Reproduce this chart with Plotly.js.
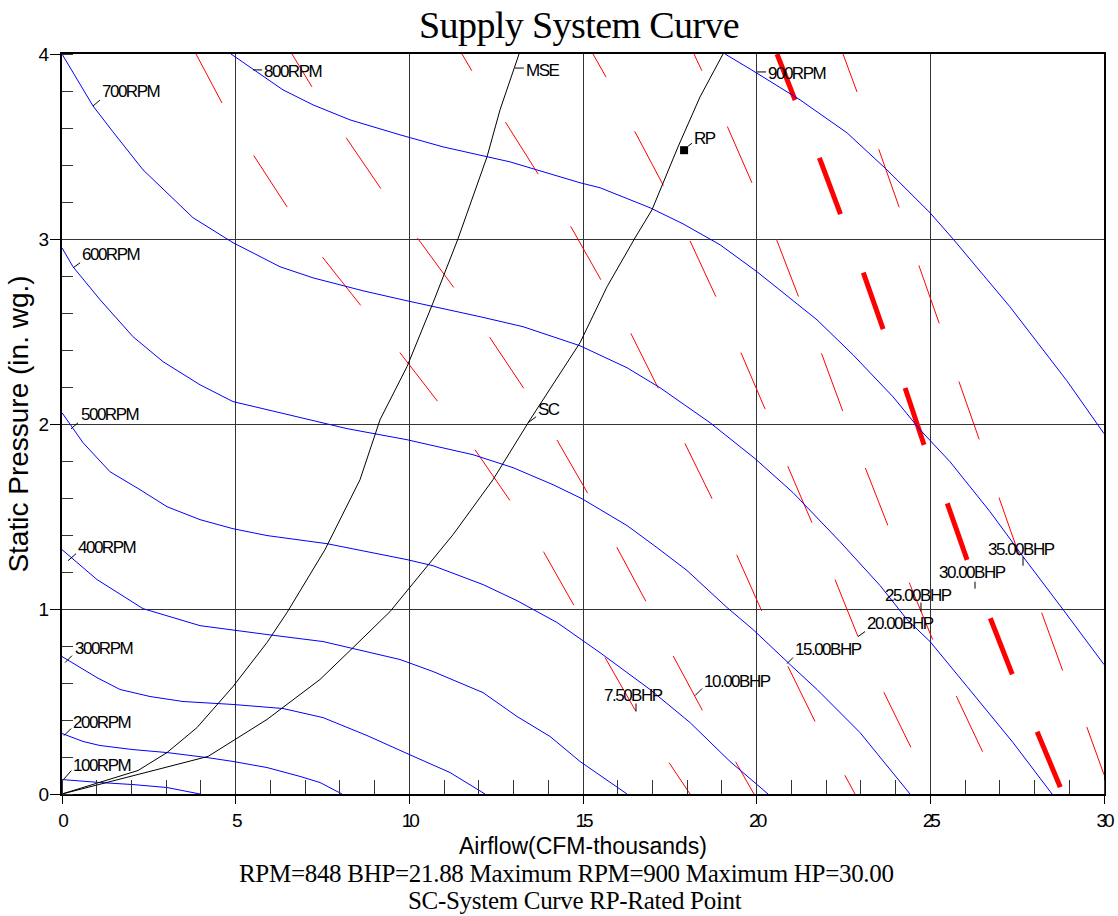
<!DOCTYPE html>
<html><head><meta charset="utf-8">
<script src="https://cdn.plot.ly/plotly-3.0.1.min.js"></script>
<style>
html,body{margin:0;padding:0;background:#fff;}
#chart{width:1118px;height:916px;}
.xtick text,.ytick text{letter-spacing:-3px;}
.annotation-text{letter-spacing:-1.5px;}
.gtitle{letter-spacing:-0.6px;}
</style></head><body><div id="chart"></div>
<script>
// ---- Fan curves (RPM), airflow in CFM-thousands, static pressure in in. wg.
const rpmNames = ['100RPM','200RPM','300RPM','400RPM','500RPM','600RPM','700RPM','800RPM','900RPM'];
const rpm100x = [0, 1.094, 2.044, 3.023, 3.973];
const rpm100y = [0.078, 0.062, 0.051, 0.035, 0];
const rpm200x = [0, 0.605, 1.094, 2.044, 3.023, 4.175, 4.924, 5.903, 6.853, 7.428, 8.062];
const rpm200y = [0.327, 0.284, 0.262, 0.240, 0.224, 0.197, 0.176, 0.143, 0.095, 0.062, 0];
const rpm300x = [0, 1.008, 1.670, 2.534, 3.484, 4.924, 6.363, 7.515, 8.782, 9.933, 11.171, 12.179];
const rpm300y = [0.743, 0.629, 0.565, 0.527, 0.500, 0.484, 0.462, 0.413, 0.316, 0.219, 0.116, 0];
const rpm400x = [0, 1.008, 2.332, 3.973, 5.903, 7.515, 9.732, 10.682, 12.122, 13.101, 14.051, 14.914, 16.268];
const rpm400y = [1.321, 1.159, 1.002, 0.910, 0.862, 0.824, 0.727, 0.662, 0.548, 0.419, 0.311, 0.176, 0];
const rpm500x = [0, 0.605, 1.382, 2.246, 3.023, 3.973, 4.924, 5.903, 7.630, 9.933, 10.682, 12.122, 13.101, 14.252, 15.490, 16.929, 18.082, 19.233, 20.327];
const rpm500y = [2.061, 1.899, 1.742, 1.645, 1.553, 1.483, 1.434, 1.397, 1.353, 1.267, 1.234, 1.132, 1.045, 0.927, 0.764, 0.565, 0.386, 0.176, 0];
const rpm600x = [0, 0.317, 1.094, 2.044, 2.908, 3.973, 4.924, 6.277, 8.206, 9.933, 11.834, 12.985, 14.137, 14.972, 16.268, 17.131, 17.995, 19.147, 19.895, 20.961, 21.738, 22.976, 24.416];
const rpm600y = [2.952, 2.850, 2.672, 2.472, 2.337, 2.212, 2.121, 2.061, 1.975, 1.915, 1.834, 1.764, 1.672, 1.596, 1.451, 1.332, 1.208, 1.008, 0.889, 0.700, 0.565, 0.332, 0];
const rpm700x = [0, 0.893, 1.468, 2.332, 3.772, 4.924, 6.277, 7.227, 8.667, 9.933, 12.035, 13.273, 14.914, 16.268, 17.218, 18.657, 19.953, 21.047, 22.400, 23.552, 24.330, 24.992, 26.057, 27.381, 28.504];
const rpm700y = [4.0, 3.719, 3.579, 3.374, 3.115, 2.980, 2.850, 2.790, 2.720, 2.666, 2.580, 2.526, 2.423, 2.304, 2.196, 2.007, 1.813, 1.629, 1.364, 1.127, 0.943, 0.824, 0.581, 0.278, 0];
const rpm800x = [4.866, 6.363, 7.227, 8.292, 9.732, 10.970, 12.899, 14.914, 15.490, 16.929, 17.880, 18.945, 20.010, 21.738, 22.774, 23.926, 24.703, 25.567, 26.719, 27.669, 28.821, 30.0];
const rpm800y = [4.0, 3.806, 3.725, 3.644, 3.563, 3.498, 3.417, 3.304, 3.277, 3.169, 3.082, 2.969, 2.823, 2.563, 2.374, 2.147, 1.969, 1.796, 1.526, 1.283, 0.997, 0.700];
const rpm900x = [19.09, 19.81, 21.25, 22.60, 23.75, 24.99, 25.65, 27.29, 28.93, 30.0];
const rpm900y = [4.0, 3.919, 3.752, 3.574, 3.374, 3.142, 3.001, 2.634, 2.234, 1.948];
// label anchor points on each fan curve
const rpmLabelX = [0.04, 0.06, 0.086, 0.173, 0.259, 0.317, 0.893, 5.50, 20.01];
const rpmLabelY = [0.078, 0.316, 0.710, 1.261, 1.974, 2.844, 3.719, 3.914, 3.903];

// ---- Brake horsepower curves
const bhpNames = ['7.50BHP','10.00BHP','15.00BHP','20.00BHP','25.00BHP','30.00BHP','35.00BHP'];
const bhp75x = [3.858, 4.607, 5.528, 6.478, 7.515, 8.609, 9.731, 10.825, 11.891, 12.898, 13.877, 14.741, 15.634, 16.526, 17.476, 18.081];
const bhp75y = [4.000, 3.735, 3.449, 3.174, 2.898, 2.639, 2.385, 2.120, 1.861, 1.586, 1.305, 1.019, 0.738, 0.446, 0.170, 0];
const bhp10x = [6.622, 7.198, 8.205, 9.184, 10.250, 11.286, 12.323, 13.301, 14.280, 15.144, 15.979, 16.814, 17.620, 18.455, 19.405, 19.923];
const bhp10y = [4.000, 3.822, 3.541, 3.271, 3.001, 2.736, 2.466, 2.191, 1.904, 1.623, 1.332, 1.040, 0.738, 0.446, 0.170, 0];
const bhp15x = [11.516, 11.804, 12.783, 13.705, 14.655, 15.518, 16.382, 17.159, 17.937, 18.714, 19.434, 20.154, 20.874, 21.680, 22.543, 22.831];
const bhp15y = [4.000, 3.908, 3.627, 3.352, 3.065, 2.779, 2.488, 2.196, 1.894, 1.597, 1.289, 0.986, 0.700, 0.392, 0.100, 0];
const bhp20x = [15.288, 15.662, 16.497, 17.275, 18.081, 18.829, 19.549, 20.240, 20.902, 21.593, 22.256, 22.918, 23.666, 24.444, 25.106];
const bhp20y = [4.000, 3.876, 3.579, 3.303, 2.990, 2.687, 2.385, 2.082, 1.769, 1.466, 1.159, 0.851, 0.548, 0.251, 0];
const bhp25x = [18.196, 18.426, 19.175, 19.866, 20.586, 21.219, 21.881, 22.486, 23.148, 23.781, 24.415, 25.077, 25.768, 26.516, 27.063];
const bhp25y = [4.000, 3.908, 3.600, 3.303, 2.990, 2.682, 2.374, 2.066, 1.753, 1.450, 1.132, 0.830, 0.521, 0.224, 0];
const bhp30x = [20.586, 21.104, 21.795, 22.400, 23.062, 23.637, 24.271, 24.818, 25.480, 26.056, 26.718, 27.351, 28.071, 28.733, 28.819];
const bhp30y = [4.000, 3.752, 3.444, 3.141, 2.823, 2.515, 2.196, 1.888, 1.575, 1.267, 0.954, 0.651, 0.338, 0.041, 0];
const bhp35x = [22.486, 22.889, 23.523, 24.098, 24.674, 25.250, 25.826, 26.402, 26.977, 27.553, 28.215, 28.820, 29.511, 30.000];
const bhp35y = [4.000, 3.795, 3.481, 3.174, 2.855, 2.547, 2.228, 1.920, 1.602, 1.294, 0.975, 0.662, 0.359, 0.105];
const bhpLabelX = [16.526, 18.225, 20.874, 22.918, 24.731, 26.286, 27.668];
const bhpLabelY = [0.446, 0.532, 0.705, 0.851, 0.986, 1.110, 1.234];

// ---- System curves
const mseX = [0, 2.188, 3.023, 3.887, 4.924, 5.903, 6.478, 7.572, 8.580, 9.156, 9.933, 10.682, 11.401, 12.236, 12.611, 13.158];
const mseY = [0, 0.127, 0.224, 0.359, 0.581, 0.819, 0.981, 1.321, 1.699, 2.023, 2.310, 2.655, 3.001, 3.444, 3.698, 4.0];
const scX = [0, 4.204, 5.903, 7.428, 8.378, 9.444, 11.258, 12.409, 13.475, 14.914, 15.692, 16.498, 16.987, 17.736, 18.369, 19.031];
const scY = [0, 0.203, 0.403, 0.619, 0.791, 0.986, 1.402, 1.699, 2.023, 2.439, 2.742, 3.006, 3.158, 3.498, 3.768, 4.0];
const rpX = [17.91];
const rpY = [3.48];
const mseLabel = [13.04, 3.924];
const scLabel = [13.42, 2.007];

// ---- Operating summary
const opRPM = 848, opBHP = '21.88', maxRPM = 900, maxHP = '30.00';

// ---- styling (not data)
const thinDash = '61.5px,61.3px';
const thickDash = '60px,62.8px';
const dashOffsets = [6, 23, 42, 35, 43, 10.6, 21];

const traces = [];
const bhpSeries = [[bhp75x,bhp75y],[bhp10x,bhp10y],[bhp15x,bhp15y],[bhp20x,bhp20y],[bhp25x,bhp25y],[bhp30x,bhp30y],[bhp35x,bhp35y]];
bhpSeries.forEach((s,i)=>{
  const thick = bhpNames[i] === '30.00BHP';
  traces.push({x:s[0], y:s[1], mode:'lines', name:bhpNames[i], hoverinfo:'skip',
    line:{color:'#ff0000', width: thick?5:1, dash: thick?thickDash:thinDash, simplify:false}});
});
const rpmSeries = [[rpm100x,rpm100y],[rpm200x,rpm200y],[rpm300x,rpm300y],[rpm400x,rpm400y],[rpm500x,rpm500y],[rpm600x,rpm600y],[rpm700x,rpm700y],[rpm800x,rpm800y],[rpm900x,rpm900y]];
rpmSeries.forEach((s,i)=>{
  traces.push({x:s[0], y:s[1], mode:'lines', name:rpmNames[i], hoverinfo:'skip',
    line:{color:'#0000ff', width:1, simplify:false}});
});
traces.push({x:mseX, y:mseY, mode:'lines', name:'MSE', hoverinfo:'skip', line:{color:'#000', width:1, simplify:false}});
traces.push({x:scX, y:scY, mode:'lines', name:'SC', hoverinfo:'skip', line:{color:'#000', width:1, simplify:false}});
traces.push({x:rpX, y:rpY, mode:'markers', name:'RP', hoverinfo:'skip', marker:{symbol:'square', size:8, color:'#000'}});

const lblFont = {family:'Liberation Sans', size:17, color:'#000'};
const annotations = [];
const shapes = [];
function addLabel(x, y, text, lead, xs, ys, anchor){
  shapes.push({type:'line', xref:'x', yref:'y', xsizemode:'pixel', ysizemode:'pixel', xanchor:x, yanchor:y,
    x0:lead[0], y0:lead[1], x1:lead[2], y1:lead[3], line:{color:'#000', width:1}});
  annotations.push({x:x, y:y, xref:'x', yref:'y', text:text, showarrow:false, font:lblFont,
    xanchor:anchor, yanchor:'middle', xshift:xs, yshift:ys});
}
const rpmLead = [[0,0,8,9],[0,0,7,7],[0,0,7,7],[0,0,8,7],[0,0,7,6],[0,0,7,5],[0,0,7,6],[0,0,9,0],[0,0,9,0]];
const rpmShift = [[8,14.5],[7,13],[8,14],[8,13],[8,14],[7,13],[7,14],[9,-2],[9,-1.5]];
rpmNames.forEach((n,i)=>addLabel(rpmLabelX[i], rpmLabelY[i], n, rpmLead[i], rpmShift[i][0], rpmShift[i][1], 'left'));
const bhpLead = [[0,0,0,8],[0,0,7,7],[0,0,6,6],[0,0,7,5],[0,0,0,9],[0,0,0,7],[0,0,0,9]];
const bhpShift = [[-3,15.5,'center'],[7,14,'left'],[6,14,'left'],[7,13.5,'left'],[-2,16,'center'],[-2.5,16,'center'],[-2,16,'center']];
bhpNames.forEach((n,i)=>addLabel(bhpLabelX[i], bhpLabelY[i], n, bhpLead[i], bhpShift[i][0], bhpShift[i][1], bhpShift[i][2]));
addLabel(mseLabel[0], mseLabel[1], 'MSE', [0,0,9,0], 9, -2.5, 'left');
addLabel(scLabel[0], scLabel[1], 'SC', [0,0,8,6], 8, 13, 'left');
addLabel(rpX[0], rpY[0], 'RP', [4,4,8,7], 8, 12, 'left');

const serif = {family:'Liberation Serif', size:25, color:'#000'};
annotations.push({xref:'paper', yref:'paper', x:0.4842, y:-0.1074, xanchor:'center', yanchor:'middle', showarrow:false, font:serif,
  text:'<span style="letter-spacing:-0.3px">RPM='+opRPM+' BHP='+opBHP+' Maximum RPM='+maxRPM+' Maximum HP='+maxHP+'</span>'});
annotations.push({xref:'paper', yref:'paper', x:0.4923, y:-0.1445, xanchor:'center', yanchor:'middle', showarrow:false, font:serif,
  text:'<span style="letter-spacing:-0.3px">SC-System Curve RP-Rated Point</span>'});

const tickFont = {family:'Liberation Sans', size:19, color:'#000'};
const layout = {
  width:1118, height:916,
  margin:{l:62, r:14, t:54, b:121.5, pad:0},
  paper_bgcolor:'#fff', plot_bgcolor:'#fff', showlegend:false, hovermode:false,
  font:{family:'Liberation Sans', color:'#000'},
  title:{text:'Supply System Curve', font:{family:'Liberation Serif', size:38, color:'#000'},
    xref:'container', x:0.518, xanchor:'center', yref:'container', y:1-25/916, yanchor:'middle'},
  xaxis:{range:[0,30], tick0:0, dtick:5, ticks:'outside', ticklen:8, tickwidth:1, tickcolor:'#000',
    showgrid:true, gridcolor:'#333', gridwidth:1, zeroline:false, showline:true, linecolor:'#000', linewidth:2, mirror:true,
    tickfont:tickFont, automargin:false, fixedrange:true,
    minor:{tick0:0, dtick:1, ticks:'inside', ticklen:14, tickwidth:1, tickcolor:'#333', showgrid:false},
    title:{text:'Airflow(CFM-thousands)', font:{family:'Liberation Sans', size:23, color:'#000'}, standoff:8}},
  yaxis:{range:[0,4], tick0:0, dtick:1, ticks:'outside', ticklen:10, tickwidth:1, tickcolor:'#000',
    showgrid:true, gridcolor:'#333', gridwidth:1, zeroline:false, showline:true, linecolor:'#000', linewidth:2, mirror:true,
    tickfont:tickFont, automargin:false, fixedrange:true,
    minor:{tick0:0, dtick:0.2, ticks:'inside', ticklen:11, tickwidth:1, tickcolor:'#333', showgrid:false},
    title:{text:'\u00a0\u00a0\u00a0\u00a0Static Pressure (in. wg.)', font:{family:'Liberation Sans', size:28, color:'#000'}, standoff:2}},
  annotations:annotations, shapes:shapes
};
Plotly.newPlot('chart', traces, layout, {displayModeBar:false, staticPlot:true}).then(()=>{
  const tr = document.querySelectorAll('.scatterlayer .trace');
  dashOffsets.forEach((o,i)=>{
    const p = tr[i] && tr[i].querySelector('path.js-line');
    if(p) p.style.strokeDashoffset = o + 'px';
  });
});
</script></body></html>
